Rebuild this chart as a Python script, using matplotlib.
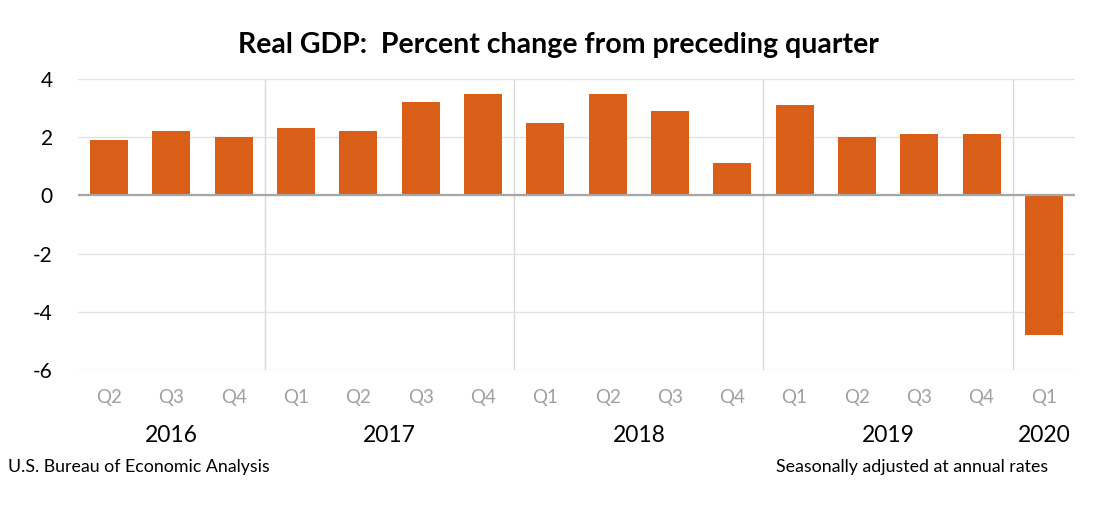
import matplotlib
matplotlib.use("Agg")
import matplotlib.pyplot as plt
import numpy as np

plt.rcParams['font.family'] = ['Lato', 'DejaVu Sans']

quarters = ["Q2", "Q3", "Q4", "Q1", "Q2", "Q3", "Q4", "Q1", "Q2", "Q3", "Q4",
            "Q1", "Q2", "Q3", "Q4", "Q1"]
years = ["2016", "2017", "2018", "2019", "2020"]
year_counts = [3, 4, 4, 4, 1]
values = [1.9, 2.2, 2.0, 2.3, 2.2, 3.2, 3.5, 2.5, 3.5, 2.9, 1.1,
          3.1, 2.0, 2.1, 2.1, -4.8]

bar_color = "#d95f18"

fig = plt.figure(figsize=(11.16, 5.3), dpi=100)
ax = fig.add_axes([78 / 1116, 1 - 370 / 530, (1075 - 78) / 1116, (370 - 79) / 530])

x = np.arange(len(values))
ax.bar(x, values, width=0.61, color=bar_color, zorder=3)

ax.set_xlim(-0.5, len(values) - 0.5)
ax.set_ylim(-6, 4)
ax.set_yticks([-6, -4, -2, 0, 2, 4])
ax.set_yticklabels(["-6", "-4", "-2", "0", "2", "4"], fontsize=15, color="#000000")
ax.yaxis.grid(True, color="#e3e3e3", linewidth=1, zorder=0)
ax.axhline(0, color="#a6a6a6", linewidth=1.6, zorder=4)

for s in ax.spines.values():
    s.set_visible(False)
ax.tick_params(axis="both", length=0)
ax.tick_params(axis="y", pad=18)

ax.set_xticks(x)
ax.set_xticklabels(quarters, fontsize=13.5, color="#a0a0a0")
ax.tick_params(axis="x", pad=14)

# year separators and labels
start = 0
for i, (yr, n) in enumerate(zip(years, year_counts)):
    center = start + (n - 1) / 2
    ax.text(center, -8.25, yr, ha="center", va="center", fontsize=16.5,
            color="#000000", transform=ax.transData, clip_on=False)
    if i < len(years) - 1:
        ax.plot([start + n - 0.5, start + n - 0.5], [-6, 4], color="#d9d9d9",
                linewidth=1, zorder=1)
    start += n

fig.text(0.5, 1 - 45 / 530, "Real GDP:  Percent change from preceding quarter",
         ha="center", va="center", fontsize=20.5, fontweight="bold")
fig.text(8 / 1116, 1 - 467 / 530, "U.S. Bureau of Economic Analysis",
         ha="left", va="center", fontsize=12.8)
fig.text(1048 / 1116, 1 - 467 / 530, "Seasonally adjusted at annual rates",
         ha="right", va="center", fontsize=12.8)

fig.savefig("out.png", dpi=100)
